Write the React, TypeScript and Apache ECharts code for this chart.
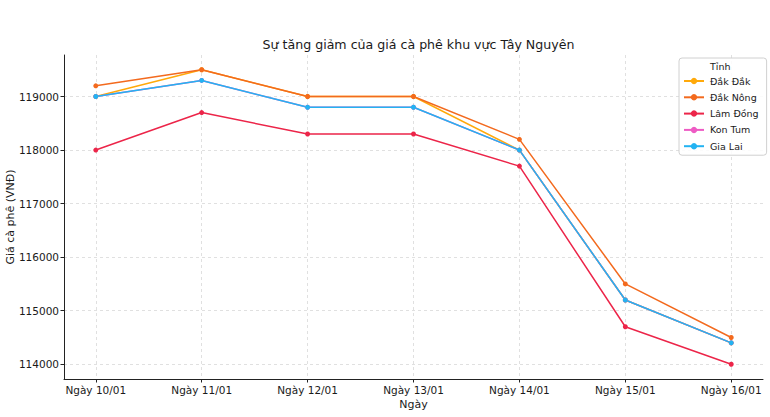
import React, { useEffect, useRef } from "react";
import * as echarts from "echarts";

const categories = ["Ngày 10/01", "Ngày 11/01", "Ngày 12/01", "Ngày 13/01", "Ngày 14/01", "Ngày 15/01", "Ngày 16/01"];
const dakDak = [119000, 119500, 119000, 119000, 118000, 115200, 114400];
const dakNong = [119200, 119500, 119000, 119000, 118200, 115500, 114500];
const lamDong = [118000, 118700, 118300, 118300, 117700, 114700, 114000];
const konTum = [119000, 119300, 118800, 118800, 118000, 115200, 114400];
const giaLai = [119000, 119300, 118800, 118800, 118000, 115200, 114400];
const yTicks = [114000, 115000, 116000, 117000, 118000, 119000];

const seriesDefs = [
  { name: "Đắk Đắk", data: dakDak, color: "#FFA90A" },
  { name: "Đắk Nông", data: dakNong, color: "#F36A1E" },
  { name: "Lâm Đồng", data: lamDong, color: "#EC2549" },
  { name: "Kon Tum", data: konTum, color: "#EE5BC4" },
  { name: "Gia Lai", data: giaLai, color: "#23B3F2" },
];

const FONT = "DejaVu Sans";

export default function App() {
  const ref = useRef<HTMLDivElement>(null);
  useEffect(() => {
    const chart = echarts.init(ref.current!, null, { renderer: "svg" });
    const xIdx = categories.map((_, i) => i);
    chart.setOption({
      animation: false,
      backgroundColor: "#fff",
      textStyle: { fontFamily: FONT },
      title: {
        text: "Sự tăng giảm của giá cà phê khu vực Tây Nguyên",
        left: 413.5,
        textAlign: "center",
        top: 33,
        textStyle: { fontFamily: FONT, fontSize: 12.6, fontWeight: "normal", color: "#1a1a1a" },
      },
      grid: { left: 64, right: 7, top: 55, bottom: 38, containLabel: false, outerBoundsMode: "none" },
      legend: {
        orient: "vertical",
        left: 679,
        top: 58,
        padding: [18, 8, 4, 4],
        itemWidth: 20,
        itemHeight: 8,
        itemGap: 6.3,
        borderColor: "#d0d0d0",
        borderWidth: 1,
        borderRadius: 3,
        backgroundColor: "rgba(255,255,255,0.85)",
        textStyle: { fontFamily: FONT, fontSize: 9.5, color: "#1a1a1a", padding: [0, 0, 0, 1] },
        data: seriesDefs.map((s) => s.name),
      },
      graphic: [
        {
          type: "text",
          left: 710,
          top: 61,
          z: 100,
          style: { text: "Tỉnh", fontFamily: FONT, fontSize: 9.5, fill: "#1a1a1a" },
        },
      ],
      xAxis: {
        type: "value",
        min: -0.3,
        max: 6.3,
        name: "Ngày",
        nameLocation: "middle",
        nameGap: 20,
        nameMoveOverlap: false,
        nameTextStyle: { fontFamily: FONT, fontSize: 11, color: "#1a1a1a" },
        axisLine: { show: true, onZero: false, lineStyle: { color: "#222", width: 1 } },
        axisTick: { show: true, length: 3.5, customValues: xIdx, lineStyle: { color: "#222" } },
        axisLabel: {
          customValues: xIdx,
          fontFamily: FONT,
          fontSize: 10.5,
          color: "#1a1a1a",
          margin: 5,
          formatter: (v: number) => categories[Math.round(v)] ?? "",
        },
        splitLine: { show: true, lineStyle: { color: "#d8d8d8", type: [3, 3], width: 0.8 } },
      },
      yAxis: {
        type: "value",
        min: 113725,
        max: 119775,
        name: "Giá cà phê (VNĐ)",
        nameLocation: "middle",
        nameGap: 48,
        nameMoveOverlap: false,
        nameTextStyle: { fontFamily: FONT, fontSize: 11, color: "#1a1a1a" },
        axisLine: { show: true, onZero: false, lineStyle: { color: "#222", width: 1 } },
        axisTick: { show: true, length: 3.5, customValues: yTicks, lineStyle: { color: "#222" } },
        axisLabel: {
          customValues: yTicks,
          fontFamily: FONT,
          fontSize: 10.5,
          color: "#1a1a1a",
          margin: 5,
          formatter: (v: number) => String(v),
        },
        splitLine: { show: true, lineStyle: { color: "#d8d8d8", type: [3, 3], width: 0.8 } },
      },
      series: seriesDefs.map((s) => ({
        name: s.name,
        type: "line",
        data: s.data.map((v, i) => [i, v]),
        color: s.color,
        symbol: "circle",
        symbolSize: 5,
        lineStyle: { width: 1.5, color: s.color },
        itemStyle: { color: s.color },
      })),
    });
    return () => chart.dispose();
  }, []);
  return <div ref={ref} style={{ width: 770, height: 417, position: "absolute", left: 0, top: 0 }} />;
}
